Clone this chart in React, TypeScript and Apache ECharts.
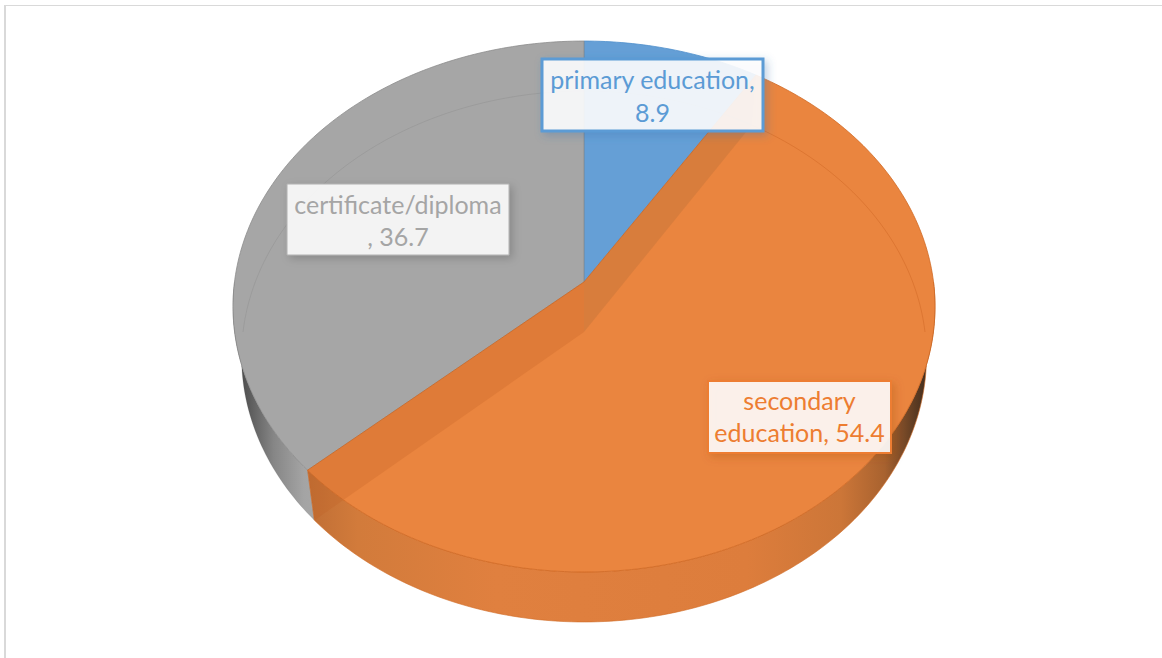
import React, { useEffect, useRef } from "react";
import * as echarts from "echarts";

const categories = ["primary education", "secondary education", "certificate/diploma"];
const values = [8.9, 54.4, 36.7];
const sliceColors = ["#659fd6", "#ea853f", "#a6a6a6"];
const edgeColors = ["#4f8fcc", "#d06a24", "#8c8c8c"];
const labelLines = [
  ["primary education,", "8.9"],
  ["secondary", "education, 54.4"],
  ["certificate/diploma", ", 36.7"],
];
const labelTextColors = ["#5b9bd5", "#ed7d31", "#a5a5a5"];

const CX = 584;
const TOP_CY = 282;
const BOT_CY = 332;
const TOP_B = 349.5;
const BOT_B = 341;
const K = 0.0923;
const A = 263.2;

const rad = (d: number) => (d * Math.PI) / 180;
const proj = (deg: number, cy: number, b: number): number[] => {
  const t = rad(deg);
  const w = 1 + K * Math.cos(t);
  return [CX + (b * Math.sin(t)) / w, cy - (A * Math.cos(t)) / w];
};
const arc = (from: number, to: number, cy: number, b: number): number[][] => {
  const n = Math.max(2, Math.ceil(Math.abs(to - from)));
  const pts: number[][] = [];
  for (let i = 0; i <= n; i++) pts.push(proj(from + ((to - from) * i) / n, cy, b));
  return pts;
};

const total = values.reduce((s, v) => s + v, 0);
const starts: number[] = [];
values.reduce((acc, v, i) => {
  starts[i] = (acc / total) * 360;
  return acc + v;
}, 0);

const poly = (points: number[][], style: any, z2: number) => ({
  type: "polygon",
  shape: { points },
  style,
  z2,
  silent: true,
});

const labelBoxes = [
  { x: 542, y: 59, w: 221, h: 72, border: "#5b9bd5", lw: 3, fill: "rgba(255,255,255,0.88)", shadow: "rgba(60,110,170,0.35)", line1: 79, line2: 112 },
  { x: 708, y: 381, w: 183, h: 72, border: "#ed7d31", lw: 2, fill: "rgba(255,255,255,0.88)", shadow: "rgba(150,70,10,0.3)", line1: 400, line2: 432 },
  { x: 287, y: 184, w: 222, h: 71, border: "#b0b0b0", lw: 1, fill: "rgba(255,255,255,0.87)", shadow: "rgba(0,0,0,0.2)", line1: 204, line2: 236 },
];

const wallFill = (i: number) =>
  i === 1
    ? {
        type: "linear", x: 0, y: 0, x2: 1, y2: 0,
        colorStops: [
          { offset: 0, color: "#bf6e35" },
          { offset: 0.08, color: "#d27b3b" },
          { offset: 0.3, color: "#e0803f" },
          { offset: 0.7, color: "#dd7d3c" },
          { offset: 0.85, color: "#cc7638" },
          { offset: 0.92, color: "#a8622f" },
          { offset: 0.97, color: "#5a3a22" },
          { offset: 1, color: "#33251b" },
        ],
      }
    : {
        type: "linear", x: 0, y: 0, x2: 1, y2: 0,
        colorStops: [
          { offset: 0, color: "#3f3f3f" },
          { offset: 0.16, color: "#555555" },
          { offset: 0.5, color: "#868686" },
          { offset: 0.87, color: "#a4a4a4" },
          { offset: 1, color: "#a6a6a6" },
        ],
      };

const renderSlice = (params: any, api: any) => {
  const i = params.dataIndex;
  const from = starts[i];
  const to = from + (api.value(0) / total) * 360;
  const children: any[] = [];
  const base = i === 1 ? 10 : 2;

  // outer wall, only the part that faces the viewer
  const wFrom = Math.max(from, 90);
  const wTo = Math.min(to, 270);
  if (wTo > wFrom) {
    children.push(
      poly(
        [...arc(wFrom, wTo, TOP_CY, TOP_B), ...arc(wTo, wFrom, BOT_CY, BOT_B)],
        { fill: wallFill(i), stroke: i === 1 ? "#d06a24" : "rgba(90,90,90,0.3)", lineWidth: 0.6 },
        base
      )
    );
  }

  // top face
  children.push(
    poly(
      [[CX, TOP_CY], ...arc(from, to, TOP_CY, TOP_B)],
      { fill: sliceColors[i], stroke: edgeColors[i], lineWidth: 0.8 },
      base + 1
    )
  );

  // back rim of the lower ellipse, seen through the top
  const rimA = i === 2 ? 270 : from;
  const rimB = i === 1 ? 90 : to;
  children.push({
    type: "polyline",
    shape: { points: arc(rimA, rimB, BOT_CY, BOT_B) },
    style: { fill: "none", stroke: i === 1 ? "rgba(200,95,30,0.4)" : "rgba(120,120,120,0.22)", lineWidth: 1 },
    z2: 15,
    silent: true,
  });

  // radial cut faces of the big slice, seen through its top
  if (i === 1) {
    const p1 = proj(from, TOP_CY, TOP_B);
    const p2 = proj(from, BOT_CY, BOT_B);
    const q1 = proj(to, TOP_CY, TOP_B);
    const q2 = proj(to, BOT_CY, BOT_B);
    children.push(
      poly([[CX, TOP_CY], p1, p2, [CX, BOT_CY]], { fill: "rgba(185,110,55,0.36)" }, 14),
      poly([[CX, TOP_CY], q1, q2, [CX, BOT_CY]], { fill: "rgba(190,95,35,0.25)" }, 14)
    );
  }

  // data label
  const box = labelBoxes[i];
  children.push({
    type: "rect",
    shape: { x: box.x, y: box.y, width: box.w, height: box.h },
    style: {
      fill: box.fill,
      stroke: box.border,
      lineWidth: box.lw,
      shadowColor: box.shadow,
      shadowBlur: 8,
      shadowOffsetX: 3,
      shadowOffsetY: 3,
    },
    z2: 30,
    silent: true,
  });
  labelLines[i].forEach((line, n) => {
    children.push({
      type: "text",
      z2: 31,
      silent: true,
      style: {
        x: box.x + box.w / 2,
        y: n === 0 ? box.line1 : box.line2,
        text: line,
        fill: labelTextColors[i],
        font: '25px Lato, "Open Sans", sans-serif',
        textAlign: "center",
        textVerticalAlign: "middle",
      },
    });
  });

  return { type: "group", children };
};

export default function App() {
  const ref = useRef<HTMLDivElement>(null);
  useEffect(() => {
    if (!ref.current) return;
    const chart = echarts.init(ref.current, undefined, { renderer: "svg" });
    chart.setOption({
      animation: false,
      backgroundColor: "#ffffff",
      graphic: [
        { type: "line", shape: { x1: 4, y1: 5.5, x2: 1162, y2: 5.5 }, style: { stroke: "#d9d9d9", lineWidth: 1 } },
        { type: "line", shape: { x1: 5, y1: 5, x2: 5, y2: 658 }, style: { stroke: "#d9d9d9", lineWidth: 2 } },
      ],
      series: [
        {
          type: "custom",
          coordinateSystem: "none",
          silent: true,
          renderItem: renderSlice,
          data: values.map((v, i) => ({ name: categories[i], value: [v] })),
        },
      ],
    });
    return () => chart.dispose();
  }, []);
  return <div ref={ref} style={{ position: "fixed", left: 0, top: 0, width: 1162, height: 658 }} />;
}
